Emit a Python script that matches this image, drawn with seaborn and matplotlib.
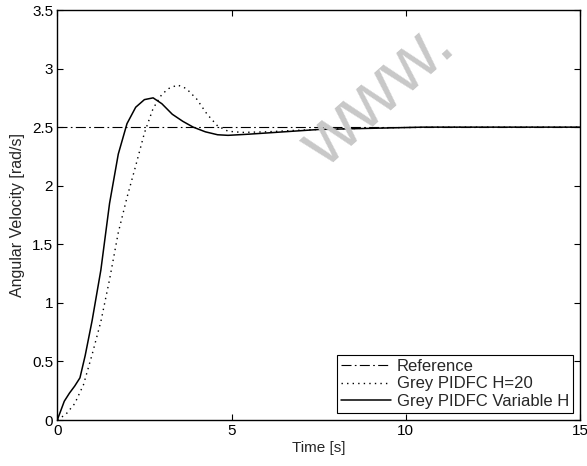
import matplotlib
matplotlib.use("Agg")
import matplotlib.pyplot as plt
import seaborn as sns
import pandas as pd

ref_t = [0, 15]
ref_y = [2.5, 2.5]

h20_t = [0, 0.25, 0.5, 0.75, 1.0, 1.25, 1.5, 1.75, 2.0, 2.25, 2.5, 2.75, 3.0, 3.2,
         3.45, 3.7, 4.0, 4.3, 4.6, 4.9, 5.3, 6, 7, 8, 9.5, 11, 15]
h20_y = [0, 0.05, 0.14, 0.30, 0.56, 0.84, 1.20, 1.60, 1.90, 2.17, 2.45, 2.66, 2.78, 2.83,
         2.86, 2.83, 2.74, 2.61, 2.51, 2.465, 2.455, 2.46, 2.475, 2.485, 2.495, 2.50, 2.50]

var_t = [0, 0.1, 0.2, 0.35, 0.5, 0.65, 0.8, 1.0, 1.25, 1.5, 1.75, 2.0, 2.25, 2.5, 2.75,
         3.0, 3.3, 3.6, 3.9, 4.25, 4.6, 4.9, 5.5, 6.5, 7.5, 9, 10.5, 15]
var_y = [0, 0.08, 0.16, 0.23, 0.29, 0.36, 0.55, 0.85, 1.28, 1.85, 2.27, 2.53, 2.67, 2.735, 2.75,
         2.70, 2.61, 2.55, 2.50, 2.46, 2.435, 2.43, 2.44, 2.46, 2.48, 2.49, 2.50, 2.50]

labels = ["Reference", "Grey PIDFC H=20", "Grey PIDFC Variable H"]
xticks = [0, 5, 10, 15]
yticks = [0, 0.5, 1, 1.5, 2, 2.5, 3, 3.5]
ytick_labels = ["0", "0.5", "1", "1.5", "2", "2.5", "3", "3.5"]

sns.set_style("ticks")
plt.rcParams['font.family'] = ['Liberation Sans', 'DejaVu Sans']
plt.rcParams['xtick.direction'] = 'in'
plt.rcParams['ytick.direction'] = 'in'

fig = plt.figure(figsize=(5.87, 4.66), dpi=100)
ax = fig.add_axes([57.3/587, 1-420/466, (580-57.3)/587, (420-10)/466])

fig.text(0.645, 0.795, "www.", fontsize=54, color="#c8c8c8", rotation=42,
         ha="center", va="center", zorder=0)
ax.patch.set_alpha(0)

df_ref = pd.DataFrame({"t": ref_t, "y": ref_y})
df_h20 = pd.DataFrame({"t": h20_t, "y": h20_y})
df_var = pd.DataFrame({"t": var_t, "y": var_y})

sns.lineplot(data=df_ref, x="t", y="y", ax=ax, color="black", lw=0.8,
             linestyle=(0, (9, 3, 1.5, 3)), label=labels[0])
sns.lineplot(data=df_h20, x="t", y="y", ax=ax, color="black", lw=1.0,
             linestyle=(0, (1, 3)), label=labels[1])
sns.lineplot(data=df_var, x="t", y="y", ax=ax, color="black", lw=1.1,
             linestyle="-", label=labels[2])

ax.set_xlim(0, 15)
ax.set_ylim(0, 3.5)
ax.set_xticks(xticks)
ax.set_xticklabels([str(v) for v in xticks])
ax.set_yticks(yticks)
ax.set_yticklabels(ytick_labels)
ax.tick_params(top=True, right=True, labelsize=11, length=4, width=0.8,
               colors="black", pad=3)
for s in ax.spines.values():
    s.set_linewidth(1.0)
    s.set_color("black")
ax.set_xlabel("Time [s]", fontsize=11, labelpad=2)
ax.set_ylabel("Angular Velocity [rad/s]", fontsize=11.5, labelpad=5)

leg = ax.legend(loc="lower right", fontsize=12, frameon=True, fancybox=False,
                edgecolor="black", framealpha=1, borderpad=0.22, labelspacing=0.15,
                handlelength=3.0, handletextpad=0.35, borderaxespad=0.45)
leg.get_frame().set_linewidth(0.8)

fig.savefig("out.png", dpi=100)
